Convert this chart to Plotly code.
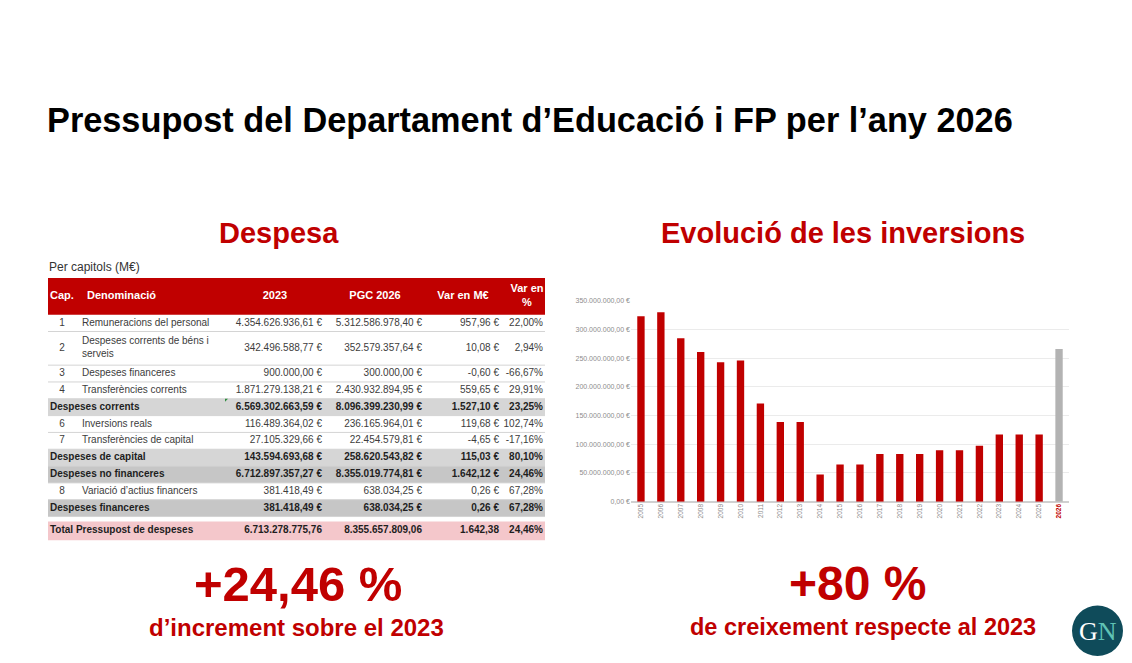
import textwrap
import plotly.graph_objects as go

W, H = 1132, 663

# ---------------- data ----------------
years = ['2005', '2006', '2007', '2008', '2009', '2010', '2011', '2012', '2013', '2014', '2015',
         '2016', '2017', '2018', '2019', '2020', '2021', '2022', '2023', '2024', '2025', '2026']
inversions = [323e6, 330e6, 285e6, 261e6, 243e6, 246e6, 171e6, 139e6, 139e6, 47.5e6, 65e6,
              65e6, 83e6, 83e6, 83e6, 89.5e6, 89.5e6, 97.5e6, 117e6, 117e6, 117e6, 266e6]
highlight_year = '2026'
y_ticks = [0, 50e6, 100e6, 150e6, 200e6, 250e6, 300e6, 350e6]

table_caps = ['1', '2', '3', '4', '', '6', '7', '', '', '8', '']
table_names = ['Remuneracions del personal', 'Despeses corrents de béns i serveis',
               'Despeses financeres', 'Transferències corrents', 'Despeses corrents',
               'Inversions reals', 'Transferències de capital', 'Despeses de capital',
               'Despeses no financeres', 'Variació d’actius financers', 'Despeses financeres']
imports_2023 = [4354626936.61, 342496588.77, 900000.00, 1871279138.21, 6569302663.59,
                116489364.02, 27105329.66, 143594693.68, 6712897357.27, 381418.49, 381418.49]
imports_2026 = [5312586978.40, 352579357.64, 300000.00, 2430932894.95, 8096399230.99,
                236165964.01, 22454579.81, 258620543.82, 8355019774.81, 638034.25, 638034.25]
var_meur = [957.96, 10.08, -0.60, 559.65, 1527.10, 119.68, -4.65, 115.03, 1642.12, 0.26, 0.26]
var_pct = [22.00, 2.94, -66.67, 29.91, 23.25, 102.74, -17.16, 80.10, 24.46, 67.28, 67.28]
table_headers = ['Cap.', 'Denominació', '2023', 'PGC 2026', 'Var en M€', 'Var en<br>%']

total_name = 'Total Pressupost de despeses'
total_2023 = 6713278775.76
total_2026 = 8355657809.06
total_var_meur = 1642.38
total_var_pct = 24.46

inversions_growth_pct = 80.10  # Despeses de capital, var %

# ---------------- styles / layout ----------------
RED = '#C00000'
GRAY_BAR = '#B3B3B3'
FONT = 'Liberation Sans, Arial, sans-serif'
TXT = '#3C3C3C'

# table geometry in page pixels
T_LEFT, T_RIGHT = 48, 545
T_TOP = 277
HEADER_H = 37
LINE_H = 17
TOTAL_GAP = 5
TOTAL_H = 19
# text anchors (page px)
X_CAP, X_NAME, X_SUB = 62, 82, 50
X_2023, X_2026, X_VARM, X_VARP = 322, 422, 499, 543
HX = [50, 87, 275, 375, 463, 527]


def fmt(v, dec=2):
    s = f"{abs(v):,.{dec}f}".replace(',', 'X').replace('.', ',').replace('X', '.')
    return ('-' if v < 0 else '') + s


def b(t, on=True):
    return f'<b>{t}</b>' if on else t


subtot = [c == '' for c in table_caps]
name_lines = [textwrap.wrap(n, 28) if not s else [n] for n, s in zip(table_names, subtot)]
row_h = [LINE_H * len(l) for l in name_lines]
row_top = []
y = T_TOP + HEADER_H
for h in row_h:
    row_top.append(y)
    y += h
body_bottom = y
row_mid = [t + h / 2 for t, h in zip(row_top, row_h)]
total_top = body_bottom + TOTAL_GAP
total_mid = total_top + TOTAL_H / 2
header_mid = T_TOP + HEADER_H / 2

dark_rows = {'Despeses no financeres', 'Despeses financeres'}
row_fill = []
for s, n in zip(subtot, table_names):
    if not s:
        row_fill.append(None)
    elif n in dark_rows:
        row_fill.append('#C6C6C6')
    else:
        row_fill.append('#D6D6D6')

fig = go.Figure()

# ---- bar chart ----
bar_colors = [GRAY_BAR if yr == highlight_year else RED for yr in years]
tick_text = [f'<b><span style="color:{RED}">{yr}</span></b>' if yr == highlight_year else yr
             for yr in years]
y_tick_text = [fmt(v) + ' €' for v in y_ticks]
fig.add_trace(go.Bar(x=years, y=inversions, marker=dict(color=bar_colors, line=dict(width=0)),
                     hoverinfo='skip'))

# ---- table: fills and lines (on a pixel-scaled helper axis) ----
tref = dict(xref='x3', yref='y3')
fig.add_shape(type='rect', x0=T_LEFT, x1=T_RIGHT, y0=T_TOP, y1=T_TOP + HEADER_H,
              fillcolor=RED, line=dict(width=0), layer='below', **tref)
for t, h, f in zip(row_top, row_h, row_fill):
    if f:
        fig.add_shape(type='rect', x0=T_LEFT, x1=T_RIGHT, y0=t, y1=t + h,
                      fillcolor=f, line=dict(width=0), layer='below', **tref)
for t, h in zip(row_top, row_h):
    fig.add_shape(type='line', x0=T_LEFT, x1=T_RIGHT, y0=t + h, y1=t + h,
                  line=dict(color='#D4D4D4', width=1), layer='below', **tref)
fig.add_shape(type='rect', x0=T_LEFT, x1=T_RIGHT, y0=total_top, y1=total_top + TOTAL_H,
              fillcolor='#F4C7CB', line=dict(width=0), layer='below', **tref)
# small green spreadsheet marker at the first subtotal's 2023 cell
first_sub = subtot.index(True)
mk_x, mk_y = 225, row_top[first_sub]
fig.add_shape(type='path', path=f'M {mk_x},{mk_y} L {mk_x + 3},{mk_y} L {mk_x},{mk_y + 3} Z',
              fillcolor='#2E8B3E', line=dict(width=0), **tref)


# ---- table texts ----
def text_trace(xs, ys, texts, pos, size=10, color=TXT):
    fig.add_trace(go.Scatter(x=xs, y=ys, text=texts, mode='text', textposition=pos,
                             textfont=dict(size=size, color=color, family=FONT),
                             xaxis='x3', yaxis='y3', hoverinfo='skip', cliponaxis=False))


# header
text_trace(HX[:2], [header_mid] * 2, [b(h) for h in table_headers[:2]], 'middle right', 11, 'white')
text_trace(HX[2:], [header_mid] * 4, [b(h) for h in table_headers[2:]], 'middle center', 11, 'white')
# body
row_color = ['#1E1E1E' if s else TXT for s in subtot]
text_trace([X_CAP] * len(table_caps), row_mid, table_caps, 'middle center')
text_trace([X_SUB if s else X_NAME for s in subtot], row_mid,
           [b('<br>'.join(l), s) for l, s in zip(name_lines, subtot)], 'middle right',
           10, row_color)
for xpos, vals, suf in [(X_2023, imports_2023, ' €'), (X_2026, imports_2026, ' €'),
                        (X_VARM, var_meur, ' €'), (X_VARP, var_pct, '%')]:
    text_trace([xpos] * len(vals), row_mid, [b(fmt(v) + suf, s) for v, s in zip(vals, subtot)],
               'middle left', 10, row_color)
# total row
text_trace([X_SUB], [total_mid], [b(total_name)], 'middle right', 10, '#1E1E1E')
text_trace([X_2023, X_2026, X_VARM, X_VARP], [total_mid] * 4,
           [b(fmt(total_2023)), b(fmt(total_2026)), b(fmt(total_var_meur)),
            b(fmt(total_var_pct) + '%')], 'middle left', 10, '#1E1E1E')

fig.update_layout(
    width=W, height=H, margin=dict(l=0, r=0, t=0, b=0),
    paper_bgcolor='white', plot_bgcolor='white', showlegend=False, bargap=0.63,
    xaxis=dict(domain=[631 / W, 1069 / W], type='category', tickangle=-90,
               tickmode='array', tickvals=years, ticktext=tick_text,
               tickfont=dict(size=6.5, color='#8C8C8C', family=FONT),
               showgrid=False, showline=False, ticks='', fixedrange=True),
    yaxis=dict(domain=[1 - 503 / H, 1 - 300 / H], range=[0, 350e6],
               tickmode='array', tickvals=y_ticks, ticktext=y_tick_text,
               tickfont=dict(size=7, color='#8C8C8C', family=FONT),
               gridcolor='#EBEBEB', gridwidth=1, zeroline=True, zerolinecolor='#D0D0D0',
               showline=False, ticks='', fixedrange=True),
    xaxis3=dict(domain=[T_LEFT / W, T_RIGHT / W], range=[T_LEFT, T_RIGHT], visible=False,
                fixedrange=True, anchor='y3'),
    yaxis3=dict(domain=[1 - 550 / H, 1 - T_TOP / H], range=[550, T_TOP], visible=False,
                fixedrange=True, anchor='x3'),
)


def ann(text, x, y, size, color, anchor='center', family=FONT):
    fig.add_annotation(text=text, x=x / W, y=1 - y / H, xref='paper', yref='paper',
                       xanchor=anchor, yanchor='middle', showarrow=False,
                       font=dict(size=size, color=color, family=family))


ann('<b>Pressupost del Departament d’Educació i FP per l’any 2026</b>', 45, 117, 34.3, '#000000', 'left')
ann('<b>Despesa</b>', 279, 231, 29, RED)
ann('<b>Evolució de les inversions</b>', 843, 231, 29, RED)
ann('Per capitols (M€)', 47, 266, 12, '#333333', 'left')
ann(f'<b>+{fmt(total_var_pct)} %</b>', 298, 586, 49, RED)
ann('<b>d’increment sobre el 2023</b>', 296, 630, 24, RED)
ann(f'<b>+{round(inversions_growth_pct)} %</b>', 858, 586, 48, RED)
ann('<b>de creixement respecte al 2023</b>', 863, 630, 23.5, RED)

# logo
fig.add_shape(type='circle', xref='paper', yref='paper', x0=1072 / W, x1=1123 / W,
              y0=1 - 659 / H, y1=1 - 608 / H, fillcolor='#0F4B5A', line=dict(width=0))
ann('<span style="color:#FFFFFF">G</span><span style="color:#5FC3B5">N</span>', 1098, 634, 26,
    '#FFFFFF', family='Liberation Serif, DejaVu Serif, serif')

fig.write_html('out.html', config={'displayModeBar': False, 'staticPlot': True},
               post_script="document.body.style.margin='0';document.body.style.padding='0';")
